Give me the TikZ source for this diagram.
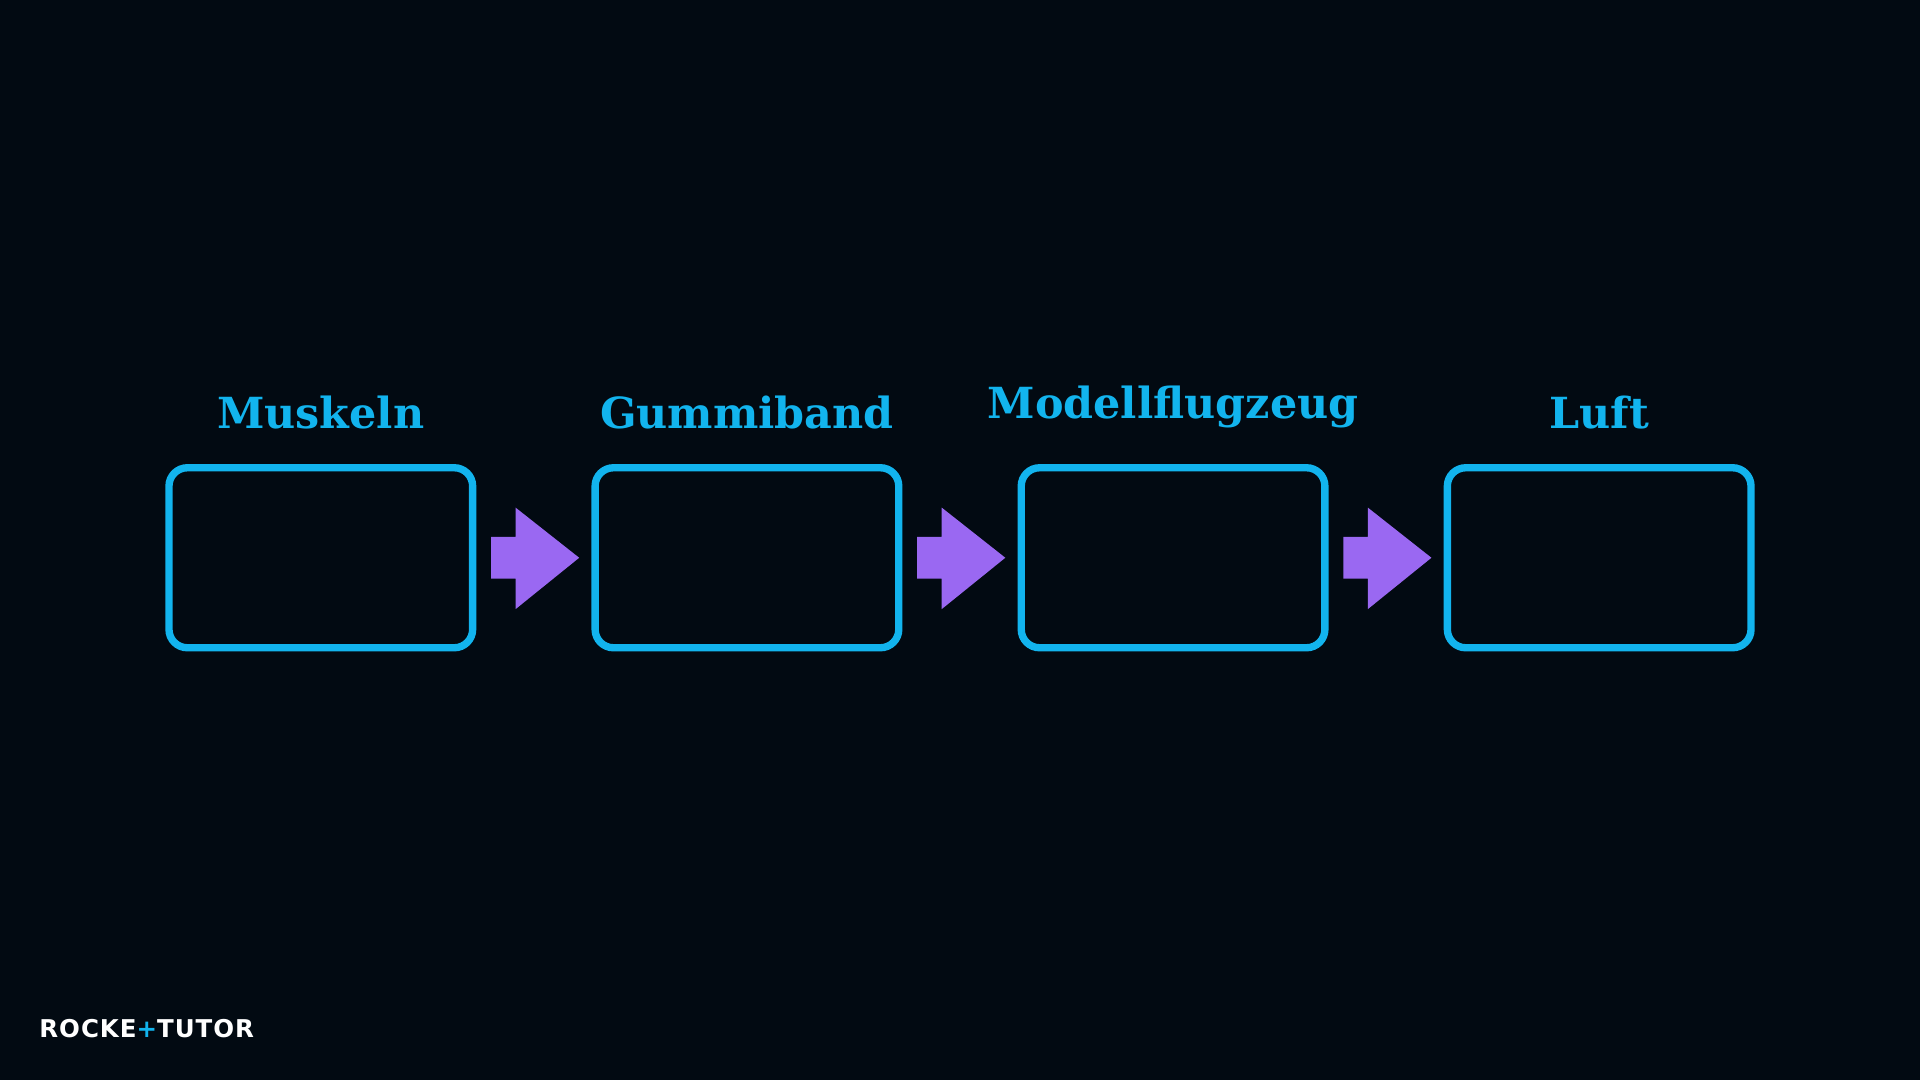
\documentclass[tikz,border=0pt]{standalone}
\usepackage{fontspec}
\setmainfont{DejaVu Serif}
\newfontfamily\logofont[LetterSpace=4]{DejaVu Sans}
\definecolor{bg}{HTML}{020A12}
\definecolor{cy}{HTML}{12B4EE}
\definecolor{pu}{HTML}{9A68F2}
\begin{document}
\begin{tikzpicture}[x=1pt,y=-1pt,
  box/.style={draw=cy,line width=6pt,rounded corners=15pt,minimum width=248pt,minimum height=147pt,inner sep=0},
  lab/.style={text=cy,font=\bfseries\fontsize{35}{40}\selectfont,anchor=base},
  arr/.style={fill=pu}]
\fill[bg] (0,0) rectangle (1568,882);
\useasboundingbox (0,0) rectangle (1568,882);
\foreach \i/\x/\t/\ly in {1/262/Muskeln/350,2/610/Gummiband/350,3/958/Modellflugzeug/342,4/1306/Luft/350}{
  \node[box] (b\i) at (\x,455.5) {};
  \node[lab] (l\i) at (\x,\ly) {\t};
}
\foreach \a/\b in {1/2,2/3,3/4}{
  \path (b\a.east) ++(12,0) coordinate (s\a);
  \fill[arr] (s\a) ++(0,-17) -- ++(20,0) -- ++(0,-24) -- ++(52,41) -- ++(-52,42) -- ++(0,-25) -- ++(-20,0) -- cycle;
}
\node[anchor=west,text=white,font=\logofont\bfseries\fontsize{20}{22}\selectfont,inner sep=0] (logo) at (32,840) {ROCKE\textcolor{cy}{+}TUTOR};
\end{tikzpicture}
\end{document}
